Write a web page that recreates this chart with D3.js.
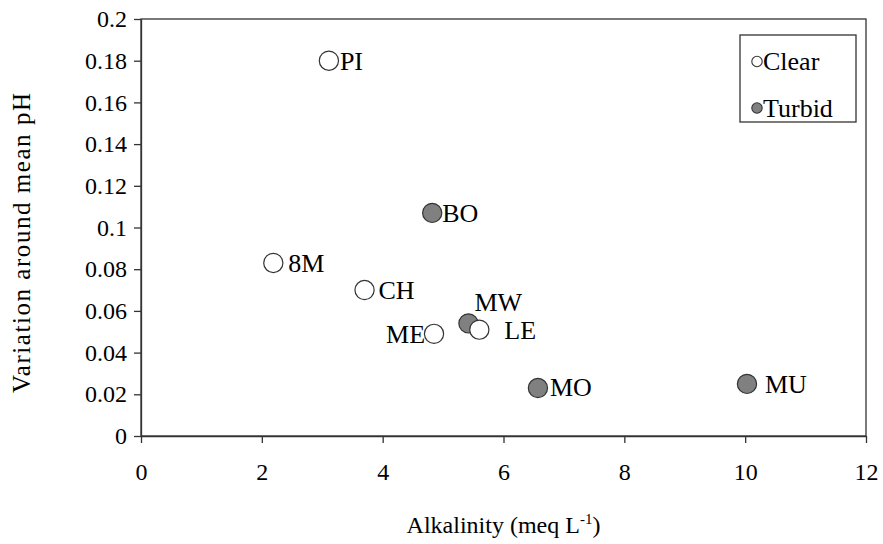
<!DOCTYPE html>
<html>
<head>
<meta charset="utf-8">
<script src="https://cdn.jsdelivr.net/npm/d3@7"></script>
<style>
  html, body { margin: 0; padding: 0; background: #fff; }
  svg { display: block; }
</style>
</head>
<body>
<svg id="chart" width="883" height="544" font-family="Liberation Serif"></svg>
<script>
// Sites and their measurements
const sites      = ["PI", "BO", "8M", "CH", "ME", "MW", "LE", "MO", "MU"];
const alkalinity = [3.11, 4.82, 2.19, 3.70, 4.85, 5.42, 5.60, 6.57, 10.03];
const variation  = [0.180, 0.107, 0.083, 0.070, 0.049, 0.054, 0.051, 0.023, 0.025];
const waterType  = ["Clear", "Turbid", "Clear", "Clear", "Clear", "Turbid", "Clear", "Turbid", "Turbid"];

const xTicks = [0, 2, 4, 6, 8, 10, 12];
const yTicks = [0, 0.02, 0.04, 0.06, 0.08, 0.1, 0.12, 0.14, 0.16, 0.18, 0.2];
const legendItems = ["Clear", "Turbid"];

// Label placement around each marker (dx, dy, anchor)
const labelPlace = {
  PI: [11, 9, "start"], BO: [10, 9, "start"], "8M": [15, 9, "start"],
  CH: [14, 9, "start"], ME: [-9, 9, "end"], MW: [6, -12, "start"],
  LE: [25, 9, "start"], MO: [12, 8, "start"], MU: [18, 9, "start"]
};

const serif = "Liberation Serif";
const fills = { Clear: "#ffffff", Turbid: "#808080" };
const ink = "#333333";

const svg = d3.select("#chart");
const m = { left: 141, right: 866, top: 19, bottom: 436 };

const x = d3.scaleLinear().domain([0, 12]).range([m.left, m.right]);
const y = d3.scaleLinear().domain([0, 0.2]).range([m.bottom, m.top]);

// Plot frame
svg.append("rect")
  .attr("x", m.left).attr("y", m.top)
  .attr("width", m.right - m.left).attr("height", m.bottom - m.top)
  .attr("fill", "none").attr("stroke", ink).attr("stroke-width", 1.3);

// Axes
const xAxis = svg.append("g")
  .attr("transform", `translate(0,${m.bottom})`)
  .call(d3.axisBottom(x).tickValues(xTicks).tickSize(7).tickSizeOuter(0).tickPadding(20)
        .tickFormat(d3.format("d")));
const yAxis = svg.append("g")
  .attr("transform", `translate(${m.left},0)`)
  .call(d3.axisLeft(y).tickValues(yTicks).tickSize(7).tickSizeOuter(0).tickPadding(7)
        .tickFormat(d => d === 0 ? "0" : String(+d.toFixed(2))));

[xAxis, yAxis].forEach(g => {
  g.attr("font-family", serif).attr("font-size", 24);
  g.select(".domain").attr("stroke", ink).attr("stroke-width", 1.3);
  g.selectAll(".tick line").attr("stroke", ink).attr("stroke-width", 1.3);
  g.selectAll(".tick text").attr("fill", "#000");
});

// Axis titles
const xt = svg.append("text")
  .attr("x", (m.left + m.right) / 2).attr("y", 533)
  .attr("text-anchor", "middle").attr("font-family", serif).attr("font-size", 24);
xt.append("tspan").text("Alkalinity (meq L");
xt.append("tspan").attr("dy", -9).attr("font-size", 15).text("-1");
xt.append("tspan").attr("dy", 9).text(")");

svg.append("text")
  .attr("transform", `translate(30,243) rotate(-90)`)
  .attr("text-anchor", "middle").attr("font-family", serif).attr("font-size", 25)
  .attr("textLength", 300).attr("lengthAdjust", "spacing")
  .text("Variation around mean pH");

// Points
const data = sites.map((s, i) => ({ s, x: alkalinity[i], y: variation[i], t: waterType[i] }));

svg.append("g").selectAll("circle").data(data).join("circle")
  .attr("cx", d => x(d.x)).attr("cy", d => y(d.y)).attr("r", 9.6)
  .attr("fill", d => fills[d.t]).attr("stroke", ink).attr("stroke-width", 1.2);

svg.append("g").selectAll("text").data(data).join("text")
  .attr("x", d => x(d.x) + labelPlace[d.s][0])
  .attr("y", d => y(d.y) + labelPlace[d.s][1])
  .attr("text-anchor", d => labelPlace[d.s][2])
  .attr("font-family", serif).attr("font-size", 26).attr("fill", "#000")
  .text(d => d.s);

// Legend
const lg = svg.append("g");
lg.append("rect").attr("x", 740).attr("y", 35).attr("width", 116).attr("height", 87)
  .attr("fill", "#fff").attr("stroke", ink).attr("stroke-width", 1.3);
legendItems.forEach((k, i) => {
  const cy = 61.5 + i * 46.5;
  lg.append("circle").attr("cx", 757).attr("cy", cy).attr("r", 5.2)
    .attr("fill", fills[k]).attr("stroke", ink).attr("stroke-width", 1.1);
  lg.append("text").attr("x", 763).attr("y", cy + 8.5)
    .attr("font-family", serif).attr("font-size", 26).attr("fill", "#000").text(k);
});
</script>
</body>
</html>
